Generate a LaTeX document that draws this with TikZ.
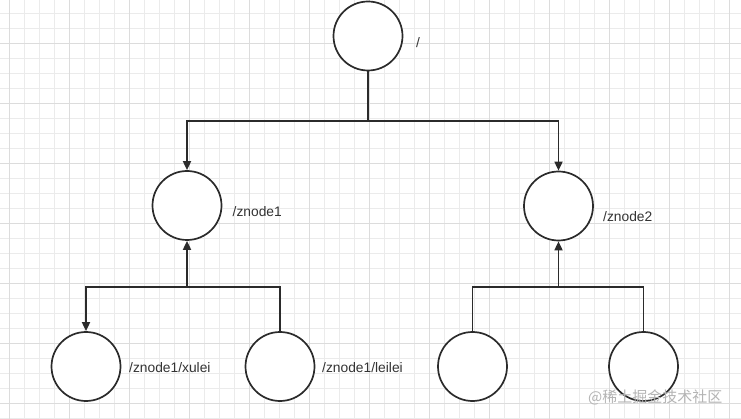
\documentclass[tikz,border=0pt]{standalone}
\usepackage{fontspec}
\setmainfont{Liberation Sans}
\newfontfamily\cjkfont{Noto Sans CJK SC}
\usetikzlibrary{arrows.meta}
\definecolor{minorgrid}{HTML}{EBEBEB}
\definecolor{majorgrid}{HTML}{DCDCDC}
\definecolor{ink}{HTML}{2B2B2B}
\definecolor{labelgray}{HTML}{333333}
\definecolor{wmgray}{HTML}{B4B4B4}
\tikzset{
  circ/.style={circle, draw=ink, line width=1.7pt, fill=white, minimum size=69pt, inner sep=0pt},
  conn/.style={draw=ink, line width=1.7pt},
  arr/.style={conn, -{Triangle[length=9pt,width=8pt]}},
  lbl/.style={anchor=west, text=labelgray, font=\fontsize{13.8}{15}\selectfont, inner sep=0pt},
  wm/.style={text=wmgray, font=\cjkfont\fontsize{15}{17}\selectfont, inner sep=0pt}
}
\begin{document}
\begin{tikzpicture}[x=1pt,y=-1pt]
\useasboundingbox (0,0) rectangle (741,419);
\fill[white] (0,0) rectangle (741,419);
% grid
\foreach \i in {0,...,49} {
  \pgfmathsetmacro{\gx}{9.3+15*\i}
  \draw[minorgrid, line width=0.8pt] (\gx,0) -- (\gx,419);
}
\foreach \i in {0,...,28} {
  \pgfmathsetmacro{\gy}{13+15*\i}
  \draw[minorgrid, line width=0.8pt] (0,\gy) -- (741,\gy);
}
\foreach \i in {0,...,12} {
  \pgfmathsetmacro{\gx}{9.3+60*\i}
  \draw[majorgrid, line width=0.9pt] (\gx,0) -- (\gx,419);
}
\foreach \i in {0,...,7} {
  \pgfmathsetmacro{\gy}{43+60*\i}
  \draw[majorgrid, line width=0.9pt] (0,\gy) -- (741,\gy);
}
% nodes
\node[circ] (root) at (368,36) {};
\node[circ] (z1) at (187,205.5) {};
\node[circ] (z2) at (558.5,206) {};
\node[circ] (x1) at (86,366.5) {};
\node[circ] (l1) at (280,366.5) {};
\node[circ] (a2) at (472.5,366.5) {};
\node[circ] (b2) at (643.5,366.5) {};
% labels
\node[lbl] (lroot) at (416,43) {/};
\node[lbl] (lz1) at (232.5,212) {/znode1};
\node[lbl] (lz2) at (603,217) {/znode2};
\node[lbl] (lx1) at (129,368) {/znode1/xulei};
\node[lbl] (ll1) at (322,368) {/znode1/leilei};
% connectors
\coordinate (j0) at (368,121);
\coordinate (j1) at (187,287);
\coordinate (j2) at (558.5,287);
\draw[conn] (root.south) -- (j0);
\draw[arr] (j0) -| (z1.north);
\draw[arr] (j0) -| (z2.north);
\draw[arr] (j1) -| (x1.north);
\draw[arr] (j1) -- (z1.south);
\draw[conn] (l1.north) |- (j1);
\draw[arr] (a2.north) |- (j2) -- (z2.south);
\draw[conn] (b2.north) |- (j2);
% watermark
\node[wm, anchor=west] (wmark) at (588,397) {@稀土掘金技术社区};
\end{tikzpicture}
\end{document}
